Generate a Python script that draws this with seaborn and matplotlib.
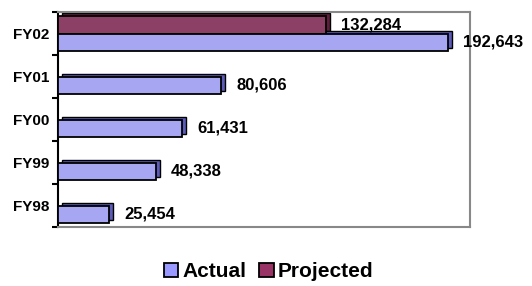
import numpy as np
import pandas as pd
import seaborn as sns
import matplotlib.pyplot as plt
from matplotlib.patches import Patch, Rectangle
from matplotlib.transforms import ScaledTranslation

years = ["FY02", "FY01", "FY00", "FY99", "FY98"]
actual = [192643, 80606, 61431, 48338, 25454]
projected = [132284, np.nan, np.nan, np.nan, np.nan]
series_order = ["Projected", "Actual"]
colors = {"Actual": "#9999FF", "Projected": "#993366"}
side_colors = {"Actual": "#5C5CB8", "Projected": "#5E1F3E"}

df = pd.DataFrame({
    "year": years * 2,
    "value": actual + projected,
    "series": ["Actual"] * 5 + ["Projected"] * 5,
})

plt.rcParams['font.family'] = ['Liberation Sans', 'DejaVu Sans']

fig = plt.figure(figsize=(5.32, 2.86), dpi=100)
ax = fig.add_axes([0.109, 0.206, 0.774, 0.752])

sns.barplot(
    data=df, y="year", x="value", hue="series",
    order=years, hue_order=series_order, palette=colors,
    orient="h", width=0.8, edgecolor="black", linewidth=1.3,
    legend=False, ax=ax, zorder=3,
)

# fake 3D depth: darker copy of each bar shifted up-right
shift = ax.transData + ScaledTranslation(4 / 100, 3 / 100, fig.dpi_scale_trans)
for cont, name in zip(ax.containers, series_order):
    for bar in cont:
        if not np.isfinite(bar.get_width()) or bar.get_width() == 0:
            continue
        ax.add_patch(Rectangle(bar.get_xy(), bar.get_width(), bar.get_height(),
                               transform=shift, facecolor=side_colors[name],
                               edgecolor="black", linewidth=1.0, zorder=2))

for cont in ax.containers:
    labels = ["" if not np.isfinite(b.get_width()) else f"{b.get_width():,.0f}"
              for b in cont]
    ax.bar_label(cont, labels=labels, padding=11, fontsize=12,
                 fontweight="bold", clip_on=False)

ax.set_xlim(0, 203500)
ax.set_xlabel("")
ax.set_ylabel("")
ax.set_xticks([])
ax.tick_params(axis="y", which="major", length=0, labelsize=11, pad=6)
for t in ax.get_yticklabels():
    t.set_fontweight("bold")
ax.set_yticks(np.arange(-0.5, 5, 1), minor=True)
ax.tick_params(axis="y", which="minor", length=4, width=1.5, color="black")

for side in ["top", "right", "bottom"]:
    ax.spines[side].set_color("#888888")
    ax.spines[side].set_linewidth(1.5)
ax.spines["left"].set_color("black")
ax.spines["left"].set_linewidth(1.5)

handles = [Patch(facecolor=colors[n], edgecolor="black", linewidth=1.3, label=n)
           for n in ["Actual", "Projected"]]
fig.legend(handles=handles, loc="center", bbox_to_anchor=(0.505, 0.05), ncol=2,
           frameon=False, prop={"weight": "bold", "size": 15},
           handlelength=0.7, handleheight=0.7, handletextpad=0.2,
           columnspacing=0.6)

fig.savefig("out.png", dpi=100, facecolor="white")
